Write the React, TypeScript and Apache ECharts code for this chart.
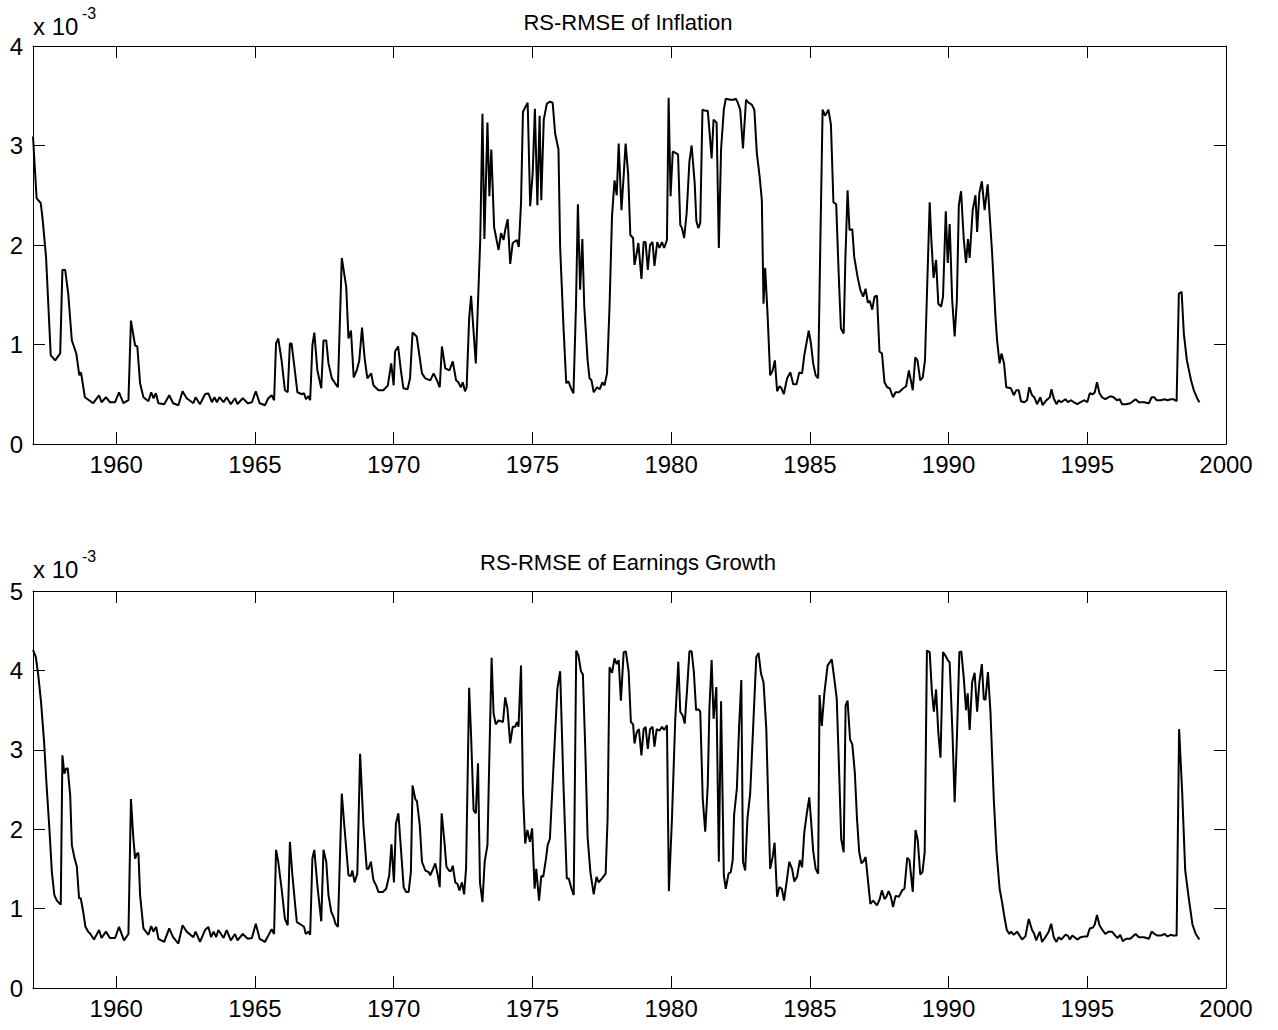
import React, { useEffect, useRef } from "react";
import * as echarts from "echarts";

// [year, value x 10^-3]
const inflationPoints: [number, number][] = [
  [1957.00, 3.09], [1957.13, 2.47], [1957.28, 2.42], [1957.35, 2.25], [1957.47, 1.88], [1957.64, 0.89],
  [1957.80, 0.84], [1957.98, 0.91], [1958.06, 1.75], [1958.16, 1.75], [1958.27, 1.51], [1958.40, 1.04],
  [1958.56, 0.91], [1958.67, 0.69], [1958.73, 0.72], [1958.87, 0.47], [1959.17, 0.41], [1959.38, 0.49],
  [1959.47, 0.42], [1959.63, 0.47], [1959.77, 0.42], [1959.96, 0.42], [1960.10, 0.52], [1960.26, 0.41],
  [1960.44, 0.44], [1960.53, 1.24], [1960.68, 0.99], [1960.76, 0.98], [1960.86, 0.61], [1960.98, 0.47],
  [1961.16, 0.43], [1961.26, 0.52], [1961.34, 0.46], [1961.43, 0.51], [1961.52, 0.41], [1961.73, 0.40],
  [1961.91, 0.49], [1962.05, 0.41], [1962.24, 0.39], [1962.39, 0.53], [1962.54, 0.46], [1962.78, 0.41],
  [1962.86, 0.47], [1963.02, 0.40], [1963.20, 0.50], [1963.32, 0.51], [1963.45, 0.42], [1963.54, 0.47],
  [1963.63, 0.42], [1963.72, 0.47], [1963.87, 0.42], [1963.98, 0.47], [1964.13, 0.40], [1964.28, 0.46],
  [1964.37, 0.40], [1964.56, 0.46], [1964.74, 0.41], [1964.89, 0.42], [1965.03, 0.53], [1965.17, 0.41],
  [1965.36, 0.39], [1965.48, 0.46], [1965.60, 0.49], [1965.69, 0.44], [1965.76, 1.01], [1965.84, 1.06],
  [1965.96, 0.84], [1966.08, 0.54], [1966.18, 0.52], [1966.26, 1.01], [1966.32, 1.01], [1966.45, 0.71],
  [1966.53, 0.52], [1966.69, 0.50], [1966.77, 0.51], [1966.84, 0.45], [1966.93, 0.48], [1966.99, 0.44],
  [1967.07, 0.99], [1967.14, 1.12], [1967.25, 0.74], [1967.39, 0.56], [1967.47, 1.04], [1967.57, 1.04],
  [1967.65, 0.81], [1967.77, 0.66], [1967.89, 0.61], [1967.99, 0.57], [1968.13, 1.87], [1968.29, 1.58],
  [1968.37, 1.06], [1968.46, 1.14], [1968.56, 0.67], [1968.67, 0.74], [1968.76, 0.84], [1968.86, 1.17],
  [1968.95, 0.87], [1969.05, 0.66], [1969.19, 0.71], [1969.27, 0.59], [1969.45, 0.54], [1969.63, 0.54],
  [1969.79, 0.59], [1969.91, 0.81], [1970.00, 0.59], [1970.05, 0.93], [1970.16, 0.98], [1970.26, 0.74],
  [1970.35, 0.56], [1970.50, 0.55], [1970.59, 0.66], [1970.68, 1.12], [1970.83, 1.08], [1971.02, 0.71],
  [1971.14, 0.66], [1971.32, 0.64], [1971.44, 0.71], [1971.56, 0.64], [1971.66, 0.57], [1971.74, 0.98],
  [1971.86, 0.76], [1972.01, 0.74], [1972.13, 0.83], [1972.25, 0.64], [1972.33, 0.62], [1972.42, 0.57],
  [1972.49, 0.62], [1972.57, 0.53], [1972.63, 0.57], [1972.72, 1.26], [1972.79, 1.49], [1972.96, 0.81],
  [1973.12, 2.05], [1973.20, 3.32], [1973.27, 2.06], [1973.38, 3.23], [1973.45, 2.49], [1973.52, 2.96],
  [1973.62, 2.18], [1973.78, 1.95], [1973.87, 2.12], [1973.96, 2.05], [1974.02, 2.15], [1974.11, 2.26],
  [1974.20, 1.81], [1974.29, 2.02], [1974.44, 2.05], [1974.51, 1.98], [1974.59, 2.42], [1974.66, 3.34],
  [1974.83, 3.43], [1974.92, 2.39], [1975.01, 2.72], [1975.09, 3.37], [1975.18, 2.40], [1975.26, 3.30],
  [1975.32, 2.45], [1975.41, 3.26], [1975.52, 3.42], [1975.64, 3.44], [1975.73, 3.43], [1975.82, 3.12],
  [1975.94, 2.96], [1976.00, 1.98], [1976.12, 1.18], [1976.22, 0.61], [1976.30, 0.63], [1976.39, 0.56],
  [1976.48, 0.51], [1976.57, 1.38], [1976.64, 2.41], [1976.72, 1.55], [1976.80, 2.06], [1976.87, 1.38],
  [1976.99, 0.84], [1977.06, 0.66], [1977.13, 0.64], [1977.21, 0.52], [1977.33, 0.57], [1977.43, 0.55],
  [1977.52, 0.62], [1977.60, 0.59], [1977.69, 0.71], [1977.78, 1.38], [1977.87, 2.29], [1977.96, 2.65],
  [1978.04, 2.50], [1978.11, 3.02], [1978.21, 2.35], [1978.28, 2.65], [1978.36, 3.02], [1978.45, 2.72],
  [1978.53, 2.10], [1978.63, 2.07], [1978.68, 1.80], [1978.76, 1.92], [1978.82, 2.02], [1978.93, 1.66],
  [1979.01, 2.03], [1979.08, 2.03], [1979.16, 1.75], [1979.24, 2.00], [1979.33, 2.03], [1979.40, 1.79],
  [1979.50, 2.03], [1979.58, 1.97], [1979.67, 2.03], [1979.75, 1.97], [1979.85, 2.05], [1979.91, 3.48],
  [1979.98, 2.49], [1980.06, 2.94], [1980.25, 2.91], [1980.33, 2.20], [1980.39, 2.17], [1980.47, 2.07],
  [1980.56, 2.32], [1980.66, 2.84], [1980.74, 3.00], [1980.85, 2.62], [1980.91, 2.24], [1980.98, 2.17],
  [1981.05, 2.22], [1981.13, 3.36], [1981.22, 3.35], [1981.32, 3.35], [1981.39, 3.12], [1981.46, 2.87],
  [1981.53, 3.26], [1981.64, 3.23], [1981.72, 1.97], [1981.80, 2.96], [1981.90, 3.36], [1981.97, 3.47],
  [1982.13, 3.46], [1982.25, 3.46], [1982.33, 3.47], [1982.39, 3.44], [1982.49, 3.36], [1982.59, 2.97],
  [1982.70, 3.46], [1982.79, 3.43], [1982.91, 3.41], [1983.00, 3.36], [1983.09, 2.92], [1983.19, 2.69],
  [1983.27, 2.45], [1983.33, 1.41], [1983.39, 1.77], [1983.48, 1.28], [1983.57, 0.69], [1983.66, 0.74],
  [1983.74, 0.84], [1983.82, 0.53], [1983.91, 0.58], [1983.98, 0.56], [1984.06, 0.50], [1984.18, 0.66],
  [1984.30, 0.72], [1984.40, 0.60], [1984.52, 0.60], [1984.62, 0.72], [1984.72, 0.71], [1984.80, 0.89],
  [1984.96, 1.14], [1985.04, 1.01], [1985.12, 0.81], [1985.21, 0.69], [1985.30, 0.66], [1985.37, 1.88],
  [1985.46, 3.36], [1985.55, 3.30], [1985.67, 3.36], [1985.76, 3.21], [1985.85, 2.43], [1985.95, 2.41],
  [1986.04, 1.71], [1986.12, 1.16], [1986.22, 1.11], [1986.28, 1.85], [1986.36, 2.55], [1986.43, 2.15],
  [1986.53, 2.16], [1986.60, 1.88], [1986.72, 1.68], [1986.82, 1.55], [1986.92, 1.48], [1987.01, 1.56],
  [1987.09, 1.42], [1987.16, 1.44], [1987.25, 1.35], [1987.33, 1.48], [1987.42, 1.49], [1987.51, 0.93],
  [1987.60, 0.91], [1987.69, 0.62], [1987.79, 0.57], [1987.88, 0.56], [1988.00, 0.47], [1988.09, 0.52],
  [1988.21, 0.52], [1988.37, 0.56], [1988.47, 0.58], [1988.57, 0.74], [1988.71, 0.54], [1988.80, 0.87],
  [1988.88, 0.84], [1988.98, 0.64], [1989.07, 0.67], [1989.15, 0.84], [1989.32, 2.43], [1989.38, 2.05],
  [1989.46, 1.67], [1989.55, 1.85], [1989.63, 1.41], [1989.73, 1.38], [1989.80, 1.48], [1989.90, 2.34],
  [1989.97, 1.82], [1990.04, 2.21], [1990.13, 1.45], [1990.22, 1.08], [1990.30, 1.45], [1990.37, 2.40],
  [1990.45, 2.54], [1990.55, 2.05], [1990.63, 1.82], [1990.70, 2.06], [1990.76, 1.87], [1990.87, 2.35],
  [1990.97, 2.50], [1991.03, 2.13], [1991.11, 2.52], [1991.20, 2.64], [1991.30, 2.35], [1991.41, 2.61],
  [1991.57, 1.92], [1991.69, 1.28], [1991.75, 1.04], [1991.84, 0.81], [1991.91, 0.91], [1992.00, 0.81],
  [1992.08, 0.57], [1992.25, 0.56], [1992.35, 0.49], [1992.44, 0.54], [1992.53, 0.54], [1992.61, 0.43],
  [1992.73, 0.42], [1992.83, 0.44], [1992.91, 0.57], [1993.01, 0.49], [1993.09, 0.47], [1993.19, 0.40],
  [1993.31, 0.47], [1993.39, 0.39], [1993.53, 0.44], [1993.65, 0.47], [1993.71, 0.55], [1993.79, 0.46],
  [1993.89, 0.40], [1993.97, 0.44], [1994.06, 0.42], [1994.21, 0.45], [1994.30, 0.42], [1994.42, 0.44],
  [1994.51, 0.42], [1994.64, 0.40], [1994.76, 0.42], [1994.90, 0.44], [1995.00, 0.42], [1995.09, 0.51],
  [1995.20, 0.50], [1995.27, 0.52], [1995.35, 0.62], [1995.44, 0.51], [1995.53, 0.47], [1995.65, 0.45],
  [1995.71, 0.46], [1995.83, 0.48], [1995.95, 0.47], [1996.07, 0.44], [1996.17, 0.45], [1996.25, 0.40],
  [1996.40, 0.40], [1996.55, 0.41], [1996.74, 0.45], [1996.86, 0.42], [1997.04, 0.42], [1997.22, 0.41],
  [1997.32, 0.47], [1997.41, 0.47], [1997.50, 0.44], [1997.65, 0.44], [1997.79, 0.45], [1997.89, 0.44],
  [1998.01, 0.45], [1998.10, 0.45], [1998.22, 0.43], [1998.30, 1.51], [1998.40, 1.53], [1998.48, 1.11],
  [1998.59, 0.84], [1998.74, 0.64], [1998.84, 0.54], [1998.96, 0.46], [1999.04, 0.42],
];

const earningsPoints: [number, number][] = [
  [1957.00, 4.26], [1957.10, 4.17], [1957.19, 3.94], [1957.29, 3.60], [1957.40, 3.10], [1957.49, 2.55],
  [1957.59, 2.01], [1957.68, 1.46], [1957.77, 1.17], [1957.86, 1.10], [1958.00, 1.05], [1958.06, 2.93],
  [1958.13, 2.70], [1958.19, 2.76], [1958.25, 2.77], [1958.34, 2.43], [1958.40, 1.80], [1958.50, 1.63],
  [1958.58, 1.53], [1958.66, 1.13], [1958.72, 1.13], [1958.81, 0.96], [1958.89, 0.77], [1958.99, 0.71],
  [1959.07, 0.68], [1959.20, 0.61], [1959.38, 0.73], [1959.47, 0.63], [1959.63, 0.71], [1959.77, 0.63],
  [1959.96, 0.63], [1960.10, 0.77], [1960.28, 0.60], [1960.44, 0.68], [1960.53, 2.38], [1960.61, 1.92],
  [1960.68, 1.63], [1960.74, 1.69], [1960.80, 1.70], [1960.86, 1.17], [1960.98, 0.75], [1961.16, 0.67],
  [1961.26, 0.78], [1961.34, 0.71], [1961.44, 0.77], [1961.52, 0.62], [1961.73, 0.58], [1961.91, 0.75],
  [1962.05, 0.64], [1962.24, 0.56], [1962.39, 0.79], [1962.54, 0.71], [1962.78, 0.64], [1962.86, 0.71],
  [1963.02, 0.58], [1963.20, 0.73], [1963.32, 0.77], [1963.42, 0.64], [1963.51, 0.71], [1963.60, 0.64],
  [1963.68, 0.73], [1963.87, 0.63], [1963.98, 0.73], [1964.13, 0.60], [1964.28, 0.68], [1964.37, 0.60],
  [1964.56, 0.68], [1964.74, 0.62], [1964.89, 0.63], [1965.03, 0.81], [1965.17, 0.62], [1965.36, 0.58],
  [1965.48, 0.66], [1965.60, 0.74], [1965.69, 0.68], [1965.76, 1.74], [1965.84, 1.59], [1965.96, 1.25],
  [1966.08, 0.87], [1966.18, 0.79], [1966.26, 1.84], [1966.35, 1.42], [1966.45, 1.04], [1966.51, 0.83],
  [1966.69, 0.79], [1966.77, 0.77], [1966.83, 0.68], [1966.93, 0.71], [1966.99, 0.67], [1967.07, 1.63],
  [1967.14, 1.74], [1967.25, 1.29], [1967.39, 0.84], [1967.47, 1.74], [1967.57, 1.59], [1967.65, 1.17],
  [1967.75, 0.96], [1967.84, 0.89], [1967.90, 0.81], [1967.99, 0.77], [1968.13, 2.45], [1968.22, 2.05],
  [1968.37, 1.42], [1968.46, 1.41], [1968.51, 1.48], [1968.59, 1.33], [1968.69, 1.44], [1968.79, 2.95],
  [1968.91, 2.05], [1969.03, 1.50], [1969.09, 1.50], [1969.18, 1.59], [1969.27, 1.36], [1969.37, 1.29],
  [1969.45, 1.21], [1969.61, 1.21], [1969.73, 1.25], [1969.84, 1.42], [1969.92, 1.81], [1970.01, 1.33],
  [1970.08, 2.07], [1970.17, 2.20], [1970.26, 1.76], [1970.36, 1.27], [1970.45, 1.21], [1970.54, 1.21],
  [1970.62, 1.46], [1970.68, 2.55], [1970.78, 2.38], [1970.84, 2.35], [1970.94, 2.05], [1971.02, 1.59],
  [1971.14, 1.48], [1971.26, 1.46], [1971.32, 1.42], [1971.42, 1.50], [1971.50, 1.57], [1971.59, 1.42],
  [1971.66, 1.27], [1971.73, 2.20], [1971.83, 1.84], [1971.90, 1.53], [1971.99, 1.48], [1972.06, 1.47],
  [1972.13, 1.54], [1972.22, 1.33], [1972.30, 1.31], [1972.37, 1.23], [1972.46, 1.33], [1972.54, 1.18],
  [1972.61, 1.51], [1972.72, 3.78], [1972.79, 3.18], [1972.88, 2.24], [1972.96, 2.20], [1973.04, 2.83],
  [1973.11, 1.33], [1973.20, 1.08], [1973.28, 1.59], [1973.38, 1.80], [1973.45, 2.93], [1973.53, 4.16],
  [1973.60, 3.46], [1973.68, 3.32], [1973.78, 3.37], [1973.87, 3.36], [1973.94, 3.35], [1974.02, 3.66],
  [1974.10, 3.52], [1974.20, 3.08], [1974.29, 3.29], [1974.38, 3.29], [1974.44, 3.35], [1974.50, 3.29],
  [1974.59, 4.06], [1974.66, 2.47], [1974.74, 1.82], [1974.82, 1.99], [1974.91, 1.84], [1974.99, 2.01],
  [1975.08, 1.25], [1975.14, 1.50], [1975.24, 1.10], [1975.32, 1.41], [1975.39, 1.40], [1975.49, 1.63],
  [1975.55, 1.80], [1975.63, 1.88], [1975.75, 2.72], [1975.90, 3.77], [1976.00, 3.99], [1976.12, 2.55],
  [1976.24, 1.38], [1976.31, 1.38], [1976.41, 1.25], [1976.49, 1.17], [1976.58, 4.25], [1976.66, 4.19],
  [1976.75, 3.99], [1976.82, 3.95], [1976.91, 2.97], [1976.99, 1.90], [1977.09, 1.46], [1977.21, 1.18],
  [1977.31, 1.40], [1977.39, 1.33], [1977.51, 1.38], [1977.64, 1.44], [1977.71, 2.13], [1977.78, 4.04],
  [1977.87, 3.97], [1977.96, 4.15], [1978.04, 4.08], [1978.11, 4.13], [1978.19, 3.62], [1978.29, 4.23],
  [1978.37, 4.24], [1978.47, 3.98], [1978.55, 3.35], [1978.63, 3.32], [1978.68, 3.08], [1978.76, 3.22],
  [1978.84, 3.26], [1978.93, 2.93], [1979.01, 3.26], [1979.08, 3.29], [1979.16, 3.01], [1979.24, 3.26],
  [1979.33, 3.29], [1979.40, 3.04], [1979.48, 3.26], [1979.58, 3.24], [1979.67, 3.29], [1979.75, 3.25],
  [1979.85, 3.31], [1979.92, 1.22], [1980.03, 2.13], [1980.15, 3.39], [1980.26, 4.11], [1980.33, 3.48],
  [1980.42, 3.43], [1980.49, 3.33], [1980.57, 3.73], [1980.66, 4.24], [1980.74, 4.24], [1980.82, 3.98],
  [1980.90, 3.50], [1980.99, 3.51], [1981.05, 3.48], [1981.14, 2.38], [1981.23, 1.97], [1981.32, 2.55],
  [1981.38, 3.52], [1981.46, 4.13], [1981.53, 3.39], [1981.63, 3.79], [1981.72, 1.59], [1981.80, 3.61],
  [1981.90, 1.42], [1981.97, 1.25], [1982.07, 1.44], [1982.15, 1.46], [1982.22, 1.61], [1982.27, 2.18],
  [1982.37, 2.51], [1982.45, 3.29], [1982.53, 3.88], [1982.59, 1.59], [1982.67, 1.48], [1982.75, 2.13],
  [1982.85, 2.45], [1982.97, 3.39], [1983.07, 4.17], [1983.15, 4.22], [1983.24, 3.96], [1983.33, 3.85],
  [1983.43, 3.27], [1983.51, 2.22], [1983.57, 1.50], [1983.66, 1.65], [1983.73, 1.83], [1983.82, 1.15],
  [1983.90, 1.27], [1983.99, 1.25], [1984.07, 1.10], [1984.18, 1.38], [1984.26, 1.59], [1984.36, 1.50],
  [1984.44, 1.34], [1984.54, 1.40], [1984.64, 1.61], [1984.72, 1.52], [1984.80, 1.96], [1984.90, 2.22],
  [1984.98, 2.40], [1985.04, 2.13], [1985.12, 1.73], [1985.21, 1.50], [1985.30, 1.44], [1985.35, 3.69],
  [1985.43, 3.30], [1985.52, 3.70], [1985.64, 4.06], [1985.79, 4.14], [1985.88, 3.90], [1985.97, 3.64],
  [1986.06, 2.68], [1986.13, 1.88], [1986.22, 1.71], [1986.29, 3.56], [1986.36, 3.62], [1986.45, 3.13],
  [1986.53, 3.07], [1986.62, 2.72], [1986.70, 2.13], [1986.78, 1.71], [1986.86, 1.57], [1986.94, 1.60],
  [1987.01, 1.65], [1987.10, 1.34], [1987.18, 1.06], [1987.28, 1.10], [1987.42, 1.04], [1987.52, 1.12],
  [1987.60, 1.23], [1987.69, 1.12], [1987.76, 1.15], [1987.84, 1.22], [1987.92, 1.15], [1988.00, 1.02],
  [1988.09, 1.16], [1988.21, 1.15], [1988.33, 1.23], [1988.41, 1.25], [1988.51, 1.64], [1988.59, 1.61],
  [1988.71, 1.21], [1988.81, 1.99], [1988.89, 1.86], [1988.98, 1.43], [1989.06, 1.46], [1989.14, 1.71],
  [1989.22, 4.25], [1989.32, 4.23], [1989.40, 3.73], [1989.47, 3.48], [1989.55, 3.76], [1989.63, 3.22],
  [1989.71, 2.90], [1989.80, 4.23], [1989.88, 4.19], [1989.97, 4.13], [1990.04, 4.10], [1990.14, 3.22],
  [1990.22, 2.34], [1990.30, 3.14], [1990.39, 4.23], [1990.46, 4.24], [1990.55, 3.90], [1990.63, 3.50],
  [1990.69, 3.71], [1990.76, 3.25], [1990.85, 3.85], [1990.94, 3.97], [1991.03, 3.48], [1991.11, 3.85],
  [1991.20, 4.08], [1991.27, 3.64], [1991.33, 3.63], [1991.42, 3.98], [1991.51, 3.48], [1991.63, 2.38],
  [1991.73, 1.71], [1991.84, 1.25], [1991.93, 1.08], [1992.01, 0.90], [1992.10, 0.73], [1992.19, 0.68],
  [1992.25, 0.71], [1992.35, 0.67], [1992.47, 0.71], [1992.56, 0.66], [1992.65, 0.61], [1992.77, 0.65],
  [1992.89, 0.87], [1993.01, 0.73], [1993.09, 0.68], [1993.16, 0.60], [1993.29, 0.71], [1993.37, 0.58],
  [1993.49, 0.64], [1993.61, 0.71], [1993.70, 0.81], [1993.79, 0.64], [1993.89, 0.58], [1993.97, 0.64],
  [1994.06, 0.61], [1994.21, 0.67], [1994.30, 0.66], [1994.37, 0.61], [1994.46, 0.66], [1994.54, 0.64],
  [1994.64, 0.61], [1994.76, 0.64], [1994.90, 0.65], [1995.00, 0.65], [1995.09, 0.75], [1995.20, 0.76],
  [1995.27, 0.80], [1995.35, 0.92], [1995.44, 0.79], [1995.53, 0.74], [1995.65, 0.68], [1995.77, 0.71],
  [1995.89, 0.71], [1996.01, 0.66], [1996.09, 0.63], [1996.19, 0.67], [1996.28, 0.59], [1996.40, 0.62],
  [1996.55, 0.62], [1996.74, 0.68], [1996.86, 0.64], [1997.04, 0.64], [1997.22, 0.62], [1997.32, 0.71],
  [1997.43, 0.68], [1997.53, 0.66], [1997.65, 0.66], [1997.79, 0.68], [1997.89, 0.65], [1998.01, 0.67],
  [1998.10, 0.66], [1998.22, 0.66], [1998.31, 3.26], [1998.42, 2.47], [1998.53, 1.48], [1998.65, 1.15],
  [1998.79, 0.80], [1998.91, 0.68], [1999.04, 0.61],
];

const panelTitles = ["RS-RMSE of Inflation", "RS-RMSE of Earnings Growth"];
const yMax = [4, 5];
const xMin = 1957;
const xMax = 2000;

const FONT = "'Liberation Sans', Arial, Helvetica, sans-serif";

export default function App() {
  const ref = useRef<HTMLDivElement>(null);

  useEffect(() => {
    document.body.style.margin = "0";
    if (!ref.current) return;
    const chart = echarts.init(ref.current, undefined, { renderer: "svg" });

    const gridTop = [46, 591];
    const gridHeight = [398, 397];
    const titleY = [22, 562];
    const expY = [26, 569];
    const left = 33;
    const right = 52;

    const grids = gridTop.map((t, i) => ({ left, right, top: t, height: gridHeight[i], containLabel: false }));

    const xAxes: any[] = [];
    const yAxes: any[] = [];
    [0, 1].forEach((g) => {
      ["bottom", "top"].forEach((pos) => {
        xAxes.push({
          type: "value",
          gridIndex: g,
          position: pos,
          min: xMin,
          max: xMax,
          splitNumber: 9,
          minInterval: 5,
          maxInterval: 5,
          axisLine: { show: true, onZero: false, lineStyle: { color: "#000", width: 1 } },
          axisTick: { show: true, inside: true, length: 12, lineStyle: { color: "#000", width: 1 } },
          axisLabel: {
            show: pos === "bottom",
            color: "#000",
            fontSize: 24,
            fontFamily: FONT,
            margin: 8,
            formatter: (v: number) => (Math.round(v) % 5 === 0 ? String(Math.round(v)) : ""),
          },
          splitLine: { show: false },
        });
      });
      ["left", "right"].forEach((pos) => {
        yAxes.push({
          type: "value",
          gridIndex: g,
          position: pos,
          min: 0,
          max: yMax[g],
          interval: 1,
          axisLine: { show: true, onZero: false, lineStyle: { color: "#000", width: 1 } },
          axisTick: { show: true, inside: true, length: 12, lineStyle: { color: "#000", width: 1 } },
          axisLabel: {
            show: pos === "left",
            color: "#000",
            fontSize: 24,
            fontFamily: FONT,
            margin: 10,
          },
          splitLine: { show: false },
        });
      });
    });

    const seriesData = [inflationPoints, earningsPoints];

    const graphics: any[] = [];
    gridTop.forEach((t, i) => {
      graphics.push({
        type: "text",
        x: 628,
        y: titleY[i],
        style: { text: panelTitles[i], font: `22px ${FONT}`, fill: "#000", textAlign: "center", textVerticalAlign: "middle" },
      });
      graphics.push({
        type: "text",
        x: 33,
        y: expY[i],
        style: { text: "x 10", font: `24px ${FONT}`, fill: "#000", textAlign: "left", textVerticalAlign: "middle" },
      });
      graphics.push({
        type: "text",
        x: 82,
        y: expY[i] - 13,
        style: { text: "-3", font: `16px ${FONT}`, fill: "#000", textAlign: "left", textVerticalAlign: "middle" },
      });
    });

    chart.setOption({
      animation: false,
      backgroundColor: "#fff",
      grid: grids,
      xAxis: xAxes,
      yAxis: yAxes,
      graphic: graphics,
      series: seriesData.map((d, i) => ({
        type: "line",
        xAxisIndex: i * 2,
        yAxisIndex: i * 2,
        data: d,
        showSymbol: false,
        symbol: "none",
        lineStyle: { color: "#000", width: 2 },
        silent: true,
      })),
    });

    return () => chart.dispose();
  }, []);

  return <div ref={ref} style={{ width: 1278, height: 1030 }} />;
}
